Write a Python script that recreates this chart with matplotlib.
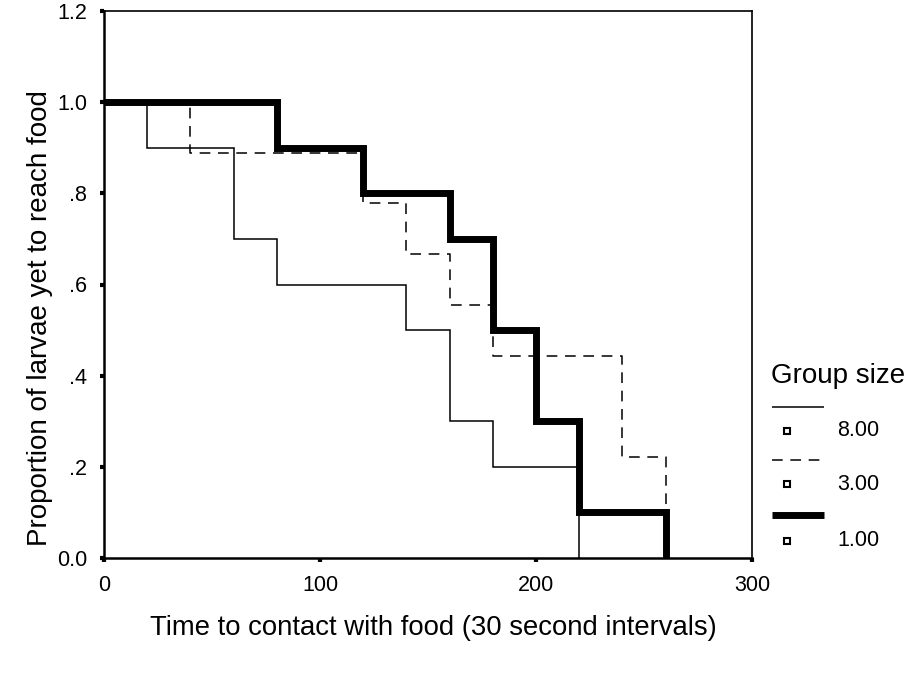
import numpy as np
import matplotlib.pyplot as plt
from matplotlib.lines import Line2D

plt.rcParams['font.family'] = ['Liberation Sans', 'DejaVu Sans']

# Kaplan-Meier style step data
t_8 = [0, 20, 60, 80, 140, 160, 180, 220]
s_8 = [1.0, 0.9, 0.7, 0.6, 0.5, 0.3, 0.2, 0.0]

t_3 = [0, 40, 120, 140, 160, 180, 240, 260]
s_3 = [1.0, 0.889, 0.778, 0.667, 0.556, 0.444, 0.222, 0.0]

t_1 = [0, 80, 120, 160, 180, 200, 220, 260]
s_1 = [1.0, 0.9, 0.8, 0.7, 0.5, 0.3, 0.1, 0.0]

group_labels = ['8.00', '3.00', '1.00']
x_ticks = [0, 100, 200, 300]
y_ticks = [0.0, 0.2, 0.4, 0.6, 0.8, 1.0, 1.2]
y_tick_labels = ['0.0', '.2', '.4', '.6', '.8', '1.0', '1.2']

W, H = 912, 673
fig = plt.figure(figsize=(W / 100, H / 100), dpi=100)
ax = fig.add_axes([104 / W, 1 - 558 / H, 648 / W, 547 / H])

styles = [dict(color='black', lw=1.1, ls='-'),
          dict(color='black', lw=1.1, ls=(0, (7, 5))),
          dict(color='black', lw=5.0, ls='-')]

for (t, s), st in zip([(t_8, s_8), (t_3, s_3), (t_1, s_1)], styles):
    ax.step(t, s, where='post', solid_joinstyle='miter', **st)

ax.set_xlim(0, 300)
ax.set_ylim(0, 1.2)
ax.set_xticks(x_ticks)
ax.set_xticklabels([str(v) for v in x_ticks])
ax.set_yticks(y_ticks)
ax.set_yticklabels(y_tick_labels)
ax.tick_params(direction='out', length=3, width=3, labelsize=15.5)
ax.tick_params(axis='y', pad=9)
ax.tick_params(axis='x', pad=9)

for sp in ax.spines.values():
    sp.set_linewidth(1.2)
ax.spines['left'].set_linewidth(1.8)
ax.spines['bottom'].set_linewidth(1.8)

# axis titles, placed in figure pixels like the scan
fig.text(433 / W, 1 - 628 / H, 'Time to contact with food (30 second intervals)',
         fontsize=19.8, ha='center', va='center')
fig.text(40 / W, 1 - 318 / H, 'Proportion of larvae yet to reach food',
         fontsize=20, ha='center', va='center', rotation=90)

# legend drawn by hand, SPSS style: line on one row, box marker and label below
lg = fig.add_axes([755 / W, 1 - 560 / H, 157 / W, 210 / H])
lg.set_xlim(755, 912)
lg.set_ylim(560, 350)
lg.axis('off')
lg.text(771, 376, 'Group size', fontsize=20, va='center', ha='left')
line_y = [407, 460, 515]
mark_y = [431, 484, 541]
for ly, my, st, lab in zip(line_y, mark_y, styles, group_labels):
    lg.add_line(Line2D([772, 824], [ly, ly], solid_capstyle='butt', **st))
    lg.plot([787], [my], marker='s', ms=5, mfc='white', mec='black', mew=1.5)
    lg.text(837, my, lab, fontsize=15.5, va='center', ha='left')

fig.savefig('out.png', dpi=100)
